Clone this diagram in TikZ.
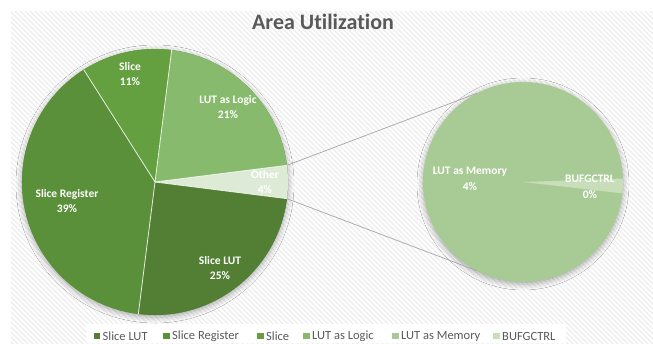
\documentclass[tikz,border=0pt]{standalone}
\usepackage{fontspec}
\setmainfont{Carlito}[Ligatures=NoCommon]
\usetikzlibrary{shadows.blur}

\definecolor{cSliceLUT}{HTML}{527F33}
\definecolor{cSliceReg}{HTML}{5B903A}
\definecolor{cSlice}{HTML}{65A040}
\definecolor{cLogic}{HTML}{87BA6C}
\definecolor{cOther}{HTML}{DDEBD6}
\definecolor{cMemory}{HTML}{A8CB96}
\definecolor{cBufg}{HTML}{C8DEBB}
\definecolor{cText}{HTML}{595959}
\definecolor{cHatch}{HTML}{EDEDED}
\definecolor{cLeader}{HTML}{A6A6A6}

\tikzset{
  hatch/.style={cHatch, line width=1.3pt},
  sep/.style={white, line width=0.8pt, opacity=0.85},
  slicelabel/.style={text=white, font=\bfseries\fontsize{11.5}{15.5}\selectfont, align=center, inner sep=0pt},
  leader/.style={cLeader, line width=0.7pt},
  legendkey/.style={minimum size=6.5pt, inner sep=0pt},
  legendtext/.style={text=cText, font=\fontsize{12.5}{14}\selectfont, anchor=west, inner sep=0pt},
  pieshadow/.style={blur shadow={shadow xshift=0pt, shadow yshift=-2pt, shadow blur radius=6pt, shadow opacity=35}}
}

% a pie wedge: centre, radius, start angle, end angle
\newcommand{\wedgefill}[5]{%
  \fill[#5] (#1) -- ++(#3:#2) arc[start angle=#3, end angle=#4, radius=#2] -- cycle;}

\begin{document}
\begin{tikzpicture}[x=1pt, y=1pt]
\useasboundingbox (0,0) rectangle (653,-343);
\fill[white] (0,0) rectangle (653,-343);

% striped chart area
\begin{scope}
  \clip (11,-11) rectangle (653,-343);
  \fill[white] (11,-11) rectangle (653,-343);
  \foreach \i in {-340,-335,...,660}
    \draw[hatch] (\i,-11) -- ++(340,-340);
\end{scope}

% title
\node[text=cText, font=\bfseries\fontsize{22}{26}\selectfont] (title) at (323,-22) {Area Utilization};

% main pie
\coordinate (mc) at (155,-182);
\path[pieshadow, fill=cSliceReg] (mc) circle[radius=133pt];
\wedgefill{mc}{133pt}{-7.2}{7.2}{cOther}
\wedgefill{mc}{133pt}{7.2}{82.8}{cLogic}
\wedgefill{mc}{133pt}{82.8}{122.4}{cSlice}
\wedgefill{mc}{133pt}{122.4}{262.8}{cSliceReg}
\wedgefill{mc}{133pt}{262.8}{352.8}{cSliceLUT}
\foreach \a in {-7.2,7.2,82.8,122.4,262.8}
  \draw[sep] (mc) -- ++(\a:133pt);

% secondary pie
\coordinate (sc) at (523,-182);
\path[pieshadow, fill=cMemory] (sc) circle[radius=100pt];
\wedgefill{sc}{100pt}{-6.5}{2}{cBufg}

% leader lines between the pies
\coordinate (oTop) at ($(mc)+(7.2:133pt)$);
\coordinate (oBot) at ($(mc)+(-7.2:133pt)$);
\coordinate (sTop) at ($(sc)+(117.5:100pt)$);
\coordinate (sBot) at ($(sc)+(-117.5:100pt)$);
\draw[leader] (oTop) -- (sTop);
\draw[leader] (oBot) -- (sBot);

% slice labels
\node[slicelabel] (lSlice) at (130,-74) {Slice\\11\%};
\node[slicelabel] (lLogic) at (228,-107) {LUT as Logic\\21\%};
\node[slicelabel] (lOther) at (265,-182) {Other\\4\%};
\node[slicelabel] (lReg) at (67,-201) {Slice Register\\39\%};
\node[slicelabel] (lLUT) at (220,-268) {Slice LUT\\25\%};
\node[slicelabel] (lMem) at (470,-179) {LUT as Memory\\4\%};
\node[slicelabel] (lBufg) at (590,-187) {BUFGCTRL\\0\%};

% legend
\fill[white] (86,-324) rectangle (566,-343);
\node[legendkey, fill=cSliceLUT] (k1) at (97,-336) {};
\node[legendtext] (t1) at (102.5,-336) {Slice LUT};
\node[legendkey, fill=cSliceReg] (k2) at (166.5,-336) {};
\node[legendtext] (t2) at (172,-336) {Slice Register};
\node[legendkey, fill=cSlice] (k3) at (260.5,-336) {};
\node[legendtext] (t3) at (266,-336) {Slice};
\node[legendkey, fill=cLogic] (k4) at (306.5,-336) {};
\node[legendtext] (t4) at (312,-336) {LUT as Logic};
\node[legendkey, fill=cMemory] (k5) at (395.5,-336) {};
\node[legendtext] (t5) at (401,-336) {LUT as Memory};
\node[legendkey, fill=cBufg] (k6) at (496.5,-336) {};
\node[legendtext] (t6) at (502,-336) {BUFGCTRL};
\end{tikzpicture}
\end{document}
